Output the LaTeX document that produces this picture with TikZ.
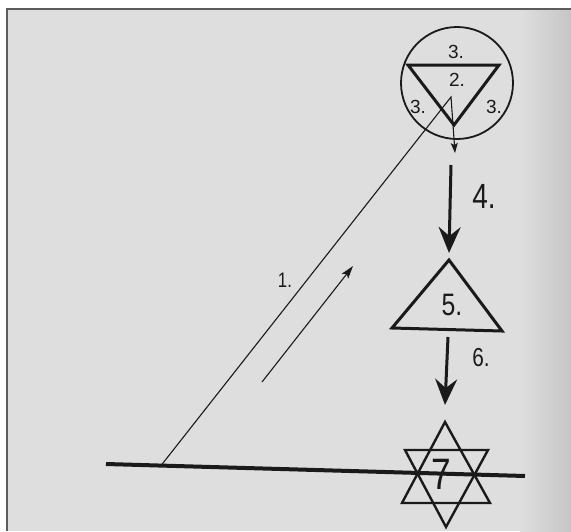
\documentclass[tikz,border=0pt]{standalone}
\usepackage{fontspec}
\setmainfont{Liberation Sans}
\newfontfamily\handfont[FakeStretch=0.8]{Liberation Sans}
\usetikzlibrary{arrows.meta}
\definecolor{paper}{HTML}{DEDEDE}
\definecolor{ink}{HTML}{1A1A1A}
\definecolor{rim}{HTML}{5C5C5C}
\tikzset{
  numeral/.style={
    text=ink,
    inner sep=0pt,
    font=\fontsize{19}{21}\selectfont
  },
  thin line/.style={
    draw=ink,
    line width=1.1pt
  },
  bold line/.style={
    draw=ink,
    line width=3pt,
    line join=miter
  },
  big arrow/.style={
    -{Stealth[length=26pt,width=22pt,inset=9pt]},
    draw=ink,
    line width=3pt
  },
  small arrow/.style={
    -{Stealth[length=10pt,width=7pt,inset=2pt]},
    draw=ink,
    line width=1.1pt
  }
}

\begin{document}
\begin{tikzpicture}[x=1pt,y=-1pt]
  \useasboundingbox (0,0) rectangle (571,531);
  % Page scan and frame
  \fill[white] (0,0) rectangle (571,531);
  \fill[paper] (7,9) rectangle (571,531);
  \shade[left color=paper, right color=gray!45] (520,9) rectangle (571,531);
  \draw[rim, line width=2pt] (7,531) -- (7,9) -- (571,9);

  % Anchor points of the figures
  \coordinate (ground west) at (106,464);
  \coordinate (ground east) at (525,476);
  \coordinate (ray foot) at (162,464.3);
  \coordinate (ray bend) at (451,97);
  \coordinate (ray end) at (455,153);
  \coordinate (rise start) at (262,382);
  \coordinate (rise end) at (353,266);
  \coordinate (fall top) at (451,165);
  \coordinate (tri apex) at (449,260);
  \coordinate (tri west) at (392,328);
  \coordinate (tri east) at (502,331);
  \coordinate (drop top) at (448,337);
  \coordinate (star apex) at (445,422);

  % Circle with inverted triangle
  \draw[draw=ink, line width=1.8pt] (457,83) circle[radius=56pt];
  \draw[bold line] (408,65) -- (499,65) -- (454,125) -- cycle;
  \node[numeral] (top three) at (456,52) {3.};
  \node[numeral] (apex two) at (457,80) {2.};
  \node[numeral] (left three) at (418,107) {3.};
  \node[numeral] (right three) at (494,107) {3.};

  % Rising ray and its direction arrow
  \draw[small arrow] (ray foot) -- (ray bend) -- (ray end);
  \draw[small arrow, -{Stealth[length=13pt,width=8pt,inset=3pt]}] (rise start) -- (rise end);
  \node[numeral, font=\handfont\fontsize{21}{23}\selectfont] (one) at (285,280) {1.};

  % Descent to the upright triangle
  \draw[big arrow] (fall top) -- ([yshift=7pt]tri apex);
  \node[numeral, font=\handfont\fontsize{35}{37}\selectfont] (four) at (484,196) {4.};
  \draw[bold line] (tri apex) -- (tri east) -- (tri west) -- cycle;
  \node[numeral, font=\handfont\fontsize{31}{33}\selectfont] (five) at (452,305) {5.};

  % Descent to the hexagram
  \draw[big arrow] (drop top) -- ([yshift=17pt]star apex);
  \node[numeral, font=\handfont\fontsize{26}{28}\selectfont] (six) at (481,358) {6.};
  \draw[draw=ink, line width=2.4pt, line join=miter] (star apex) -- (490,503) -- (402,503) -- cycle;
  \draw[draw=ink, line width=2.4pt, line join=miter] (405,450) -- (488,450) -- (446,527) -- cycle;
  \node[numeral, font=\handfont\fontsize{44}{46}\selectfont] (seven) at (441,474) {7};

  % Ground line
  \draw[draw=ink, line width=4pt] (ground west) -- (ground east);
\end{tikzpicture}
\end{document}
